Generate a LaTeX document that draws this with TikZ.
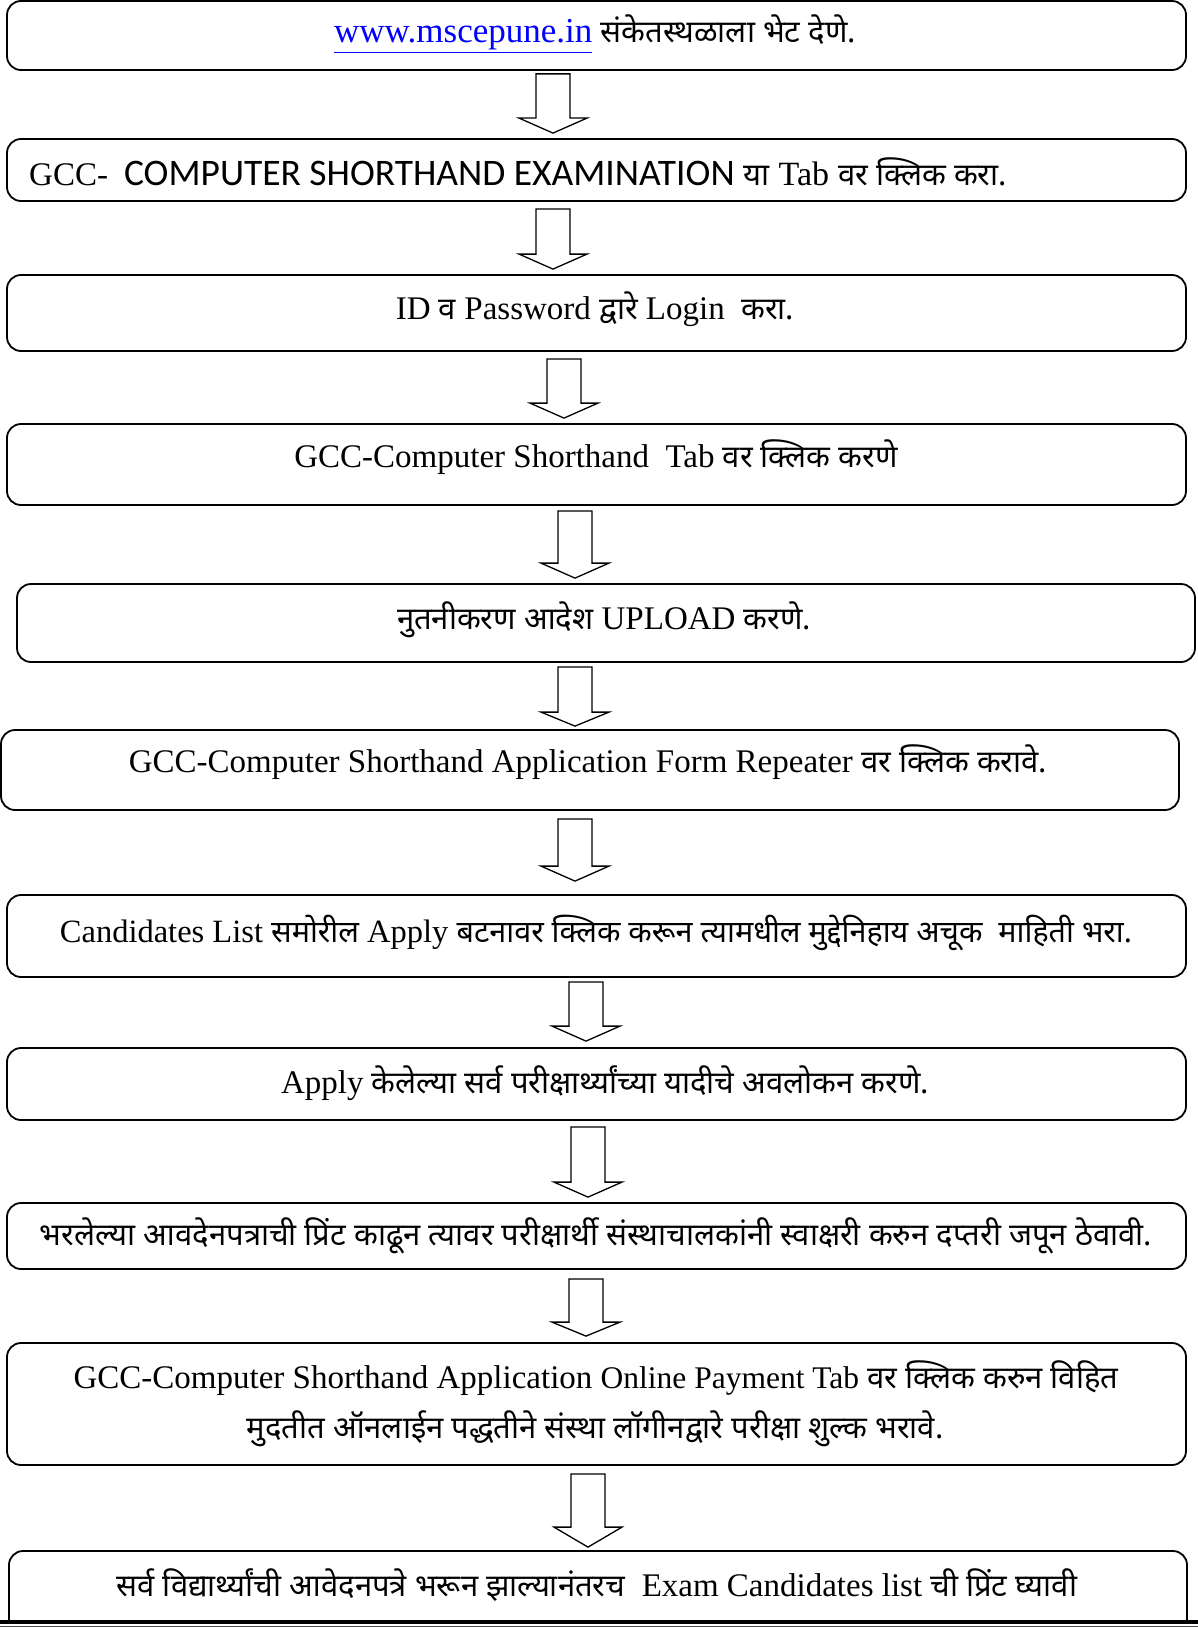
\documentclass[tikz,border=0pt]{standalone}
\usepackage{fontspec}
\setmainfont{Liberation Serif}
\newfontfamily\dev[Script=Devanagari,Scale=0.94]{Noto Sans}
\newfontfamily\calfont{Carlito}
\usetikzlibrary{calc}
\tikzset{
  box/.style={draw, line width=1.8pt, rounded corners=14pt, inner sep=0pt, fill=white},
  txt/.style={inner sep=0pt, anchor=base, font=\fontsize{33}{40}\selectfont},
  blk/.style={draw, line width=1.3pt, fill=white, line join=miter},
}
\newcommand{\barrow}[6]{%
  \draw[blk] let \p1=(#1.south), \p2=(#2.north) in
    ({#3pt-17pt},{\y1-#4pt}) -- ({#3pt-17pt},{\y2+#5pt+#6pt}) -- ({#3pt-34pt},{\y2+#5pt+#6pt})
    -- ({#3pt},{\y2+#5pt}) -- ({#3pt+34pt},{\y2+#5pt+#6pt}) -- ({#3pt+17pt},{\y2+#5pt+#6pt})
    -- ({#3pt+17pt},{\y1-#4pt}) -- cycle;}
\begin{document}
\begin{tikzpicture}[x=1pt,y=-1pt]
\useasboundingbox (0,0) rectangle (1198,1627);
% boxes
\node[box, minimum width=1179pt, minimum height=69pt] (b1) at (596.5,35.5) {};
\node[box, minimum width=1179pt, minimum height=62pt] (b2) at (596.5,170) {};
\node[box, minimum width=1179pt, minimum height=76pt] (b3) at (596.5,313) {};
\node[box, minimum width=1179pt, minimum height=81pt] (b4) at (596.5,464.5) {};
\node[box, minimum width=1178pt, minimum height=78pt] (b5) at (606,623) {};
\node[box, minimum width=1178pt, minimum height=80pt] (b6) at (590,770) {};
\node[box, minimum width=1179pt, minimum height=82pt] (b7) at (596.5,936) {};
\node[box, minimum width=1179pt, minimum height=72pt] (b8) at (596.5,1084) {};
\node[box, minimum width=1179pt, minimum height=66pt] (b9) at (596.5,1236) {};
\node[box, minimum width=1179pt, minimum height=122pt] (b10) at (596.5,1404) {};
\begin{scope}
\clip (0,0) rectangle (1198,1621);
\node[box, minimum width=1178pt, minimum height=149pt] (b11) at (598,1625.5) {};
\end{scope}
% texts
\node[txt] (t1) at (595,43) {{\fontsize{35}{42}\selectfont\color{blue}\underline{www.mscepune.in}} {\dev संकेतस्थळाला भेट देणे.}};
\node[txt, anchor=base west] (t2) at (29,185) {GCC-\hspace{16pt}{\calfont\fontsize{37.5}{44}\selectfont COMPUTER SHORTHAND EXAMINATION}\hspace{9pt}{\dev या}\hspace{9pt}{\fontsize{34}{40}\selectfont Tab}\hspace{9pt}{\dev वर क्लिक करा.}};
\node[txt] (t3) at (595,319) {ID {\dev व} Password {\dev द्वारे} Login\ \ {\dev करा.}};
\node[txt] (t4) at (596,467) {GCC-Computer Shorthand\ \ Tab {\dev वर क्लिक करणे}};
\node[txt] (t5) at (604,629) {{\dev नुतनीकरण आदेश} UPLOAD {\dev करणे.}};
\node[txt] (t6) at (588,772) {GCC-Computer Shorthand Application Form Repeater {\dev वर क्लिक करावे.}};
\node[txt, font=\fontsize{32.5}{38}\selectfont] (t7) at (596,942) {Candidates List {\dev समोरील} Apply {\dev बटनावर क्लिक करून त्यामधील मुद्देनिहाय अचूक\ \ माहिती भरा.}};
\node[txt] (t8) at (605,1093) {Apply {\dev केलेल्या सर्व परीक्षार्थ्यांच्या यादीचे अवलोकन करणे.}};
\node[txt] (t9) at (596,1245) {{\dev भरलेल्या आवदेनपत्राची प्रिंट काढून त्यावर परीक्षार्थी संस्थाचालकांनी स्वाक्षरी करुन दप्तरी जपून ठेवावी.}};
\node[txt] (t10a) at (596,1388) {GCC-Computer Shorthand Application {\fontsize{31.5}{36}\selectfont Online Payment Tab} {\dev वर क्लिक करुन विहित}};
\node[txt] (t10b) at (595,1438) {{\dev मुदतीत ऑनलाईन पद्धतीने संस्था लॉगीनद्वारे परीक्षा शुल्क भरावे.}};
\node[txt] (t11) at (597,1596) {{\dev सर्व विद्यार्थ्यांची आवेदनपत्रे भरून झाल्यानंतरच}\ \ Exam Candidates list {\dev ची प्रिंट घ्यावी}};
% block arrows
\barrow{b1}{b2}{553}{3}{5}{15}
\barrow{b2}{b3}{553}{7}{5}{15}
\barrow{b3}{b4}{564}{7}{5}{15}
\barrow{b4}{b5}{575}{5}{5}{15}
\barrow{b5}{b6}{575}{4}{3}{14}
\barrow{b6}{b7}{575}{8}{13}{15}
\barrow{b7}{b8}{586}{4}{6}{15}
\barrow{b8}{b9}{588}{6}{5}{15}
\barrow{b9}{b10}{586}{9}{6}{14}
\barrow{b10}{b11}{588}{8}{3}{20}
% page bottom rules
\draw[line width=4pt] (0,1622) -- (1198,1622);
\draw[line width=1pt, black!70] (0,1626.5) -- (1198,1626.5);
\end{tikzpicture}
\end{document}
